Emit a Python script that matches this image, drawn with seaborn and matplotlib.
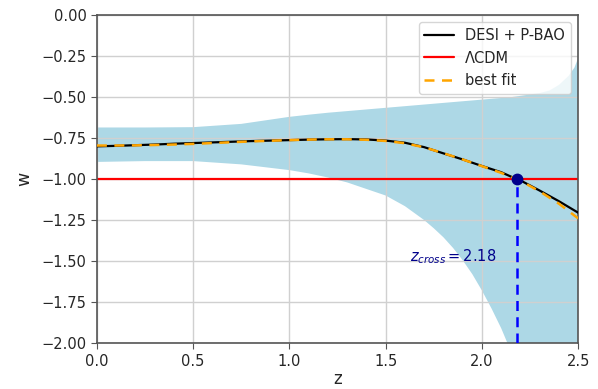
import matplotlib
matplotlib.use("Agg")
import matplotlib.pyplot as plt
import seaborn as sns
import numpy as np
import pandas as pd

# ---- data ----
z_line = [0.0, 0.1, 0.2, 0.3, 0.4, 0.5, 0.6, 0.7, 0.8, 0.9, 1.0, 1.1, 1.2, 1.3,
          1.4, 1.5, 1.6, 1.7, 1.8, 1.9, 2.0, 2.1, 2.18, 2.2, 2.3, 2.4, 2.5]
w_desi = [-0.800, -0.797, -0.793, -0.789, -0.784, -0.780, -0.776, -0.772, -0.768,
          -0.765, -0.762, -0.759, -0.757, -0.756, -0.758, -0.765, -0.778, -0.805,
          -0.843, -0.880, -0.920, -0.958, -1.000, -1.008, -1.070, -1.135, -1.205]
w_best = [-0.795, -0.795, -0.794, -0.792, -0.789, -0.785, -0.780, -0.775, -0.770,
          -0.766, -0.762, -0.759, -0.757, -0.757, -0.760, -0.767, -0.781, -0.806,
          -0.842, -0.880, -0.921, -0.962, -1.000, -1.010, -1.075, -1.150, -1.240]

z_band = [0.0, 0.25, 0.5, 0.75, 1.0, 1.1, 1.2, 1.3, 1.4, 1.5, 1.6, 1.7, 1.75,
          1.8, 1.85, 1.9, 1.95, 2.0, 2.05, 2.1, 2.15, 2.2, 2.3, 2.35, 2.4, 2.45,
          2.48, 2.5]
w_upper = [-0.685, -0.685, -0.683, -0.663, -0.620, -0.607, -0.595, -0.585, -0.575,
           -0.565, -0.555, -0.545, -0.540, -0.535, -0.530, -0.525, -0.520, -0.515,
           -0.510, -0.505, -0.500, -0.492, -0.475, -0.460, -0.425, -0.370, -0.320,
           -0.260]
w_lower = [-0.895, -0.890, -0.890, -0.910, -0.945, -0.965, -0.990, -1.020, -1.060,
           -1.100, -1.165, -1.250, -1.300, -1.355, -1.420, -1.495, -1.580, -1.680,
           -1.790, -1.910, -2.050, -2.200, -2.600, -2.800, -3.000, -3.200, -3.300,
           -3.400]

w_lcdm = -1.0
z_cross = 2.18
w_cross = -1.0
x_ticks = [0.0, 0.5, 1.0, 1.5, 2.0, 2.5]
y_ticks = [0.00, -0.25, -0.50, -0.75, -1.00, -1.25, -1.50, -1.75, -2.00]

df_desi = pd.DataFrame({"z": z_line, "w": w_desi})
df_best = pd.DataFrame({"z": z_line, "w": w_best})

sns.set_style("ticks")
plt.rcParams["font.family"] = ["DejaVu Sans"]

fig = plt.figure(figsize=(5.98, 3.89), dpi=100)
ax = fig.add_axes([0.162, 0.118, 0.805, 0.843])

ax.grid(True, color="#d0d0d0", linewidth=1.0)
ax.set_axisbelow("line")

ax.fill_between(z_band, w_lower, w_upper, color="lightblue", linewidth=0, zorder=1)
ax.axhline(w_lcdm, color="red", linewidth=1.6, label="ΛCDM", zorder=2)
sns.lineplot(data=df_desi, x="z", y="w", ax=ax, color="black", linewidth=1.6,
             label="DESI + P-BAO", sort=False, zorder=3)
sns.lineplot(data=df_best, x="z", y="w", ax=ax, color="orange", linewidth=1.8,
             linestyle=(0, (4, 3)), label="best fit", sort=False, zorder=4)
ax.vlines(z_cross, -2.0, w_cross, colors="blue", linestyles=(0, (4, 2.5)),
          linewidth=1.8, zorder=5)
ax.plot([z_cross], [w_cross], "o", color="darkblue", markersize=7.5, zorder=6)
ax.text(1.625, -1.475, r"$z_{cross} = 2.18$", color="darkblue", fontsize=10.5,
        ha="left", va="center", zorder=7)

ax.set_xlim(0, 2.5)
ax.set_ylim(-2.0, 0.0)
ax.set_xticks(x_ticks)
ax.set_yticks(y_ticks)
ax.tick_params(labelsize=10.5, color="#555555", length=4)
for s in ax.spines.values():
    s.set_color("#555555")
    s.set_linewidth(1.2)
ax.set_xlabel("z", fontsize=12, labelpad=1)
ax.set_ylabel("w", fontsize=12.5, labelpad=6)

h, l = ax.get_legend_handles_labels()
order = [l.index("DESI + P-BAO"), l.index("ΛCDM"), l.index("best fit")]
ax.legend([h[i] for i in order], [l[i] for i in order], loc="upper right",
          fontsize=10.5, framealpha=0.8)

fig.savefig("out.png", dpi=100)
